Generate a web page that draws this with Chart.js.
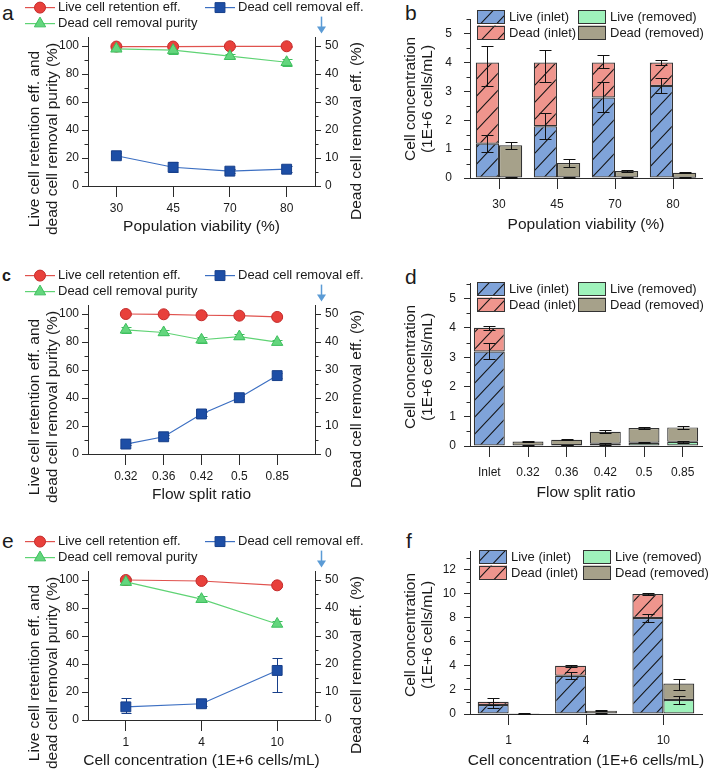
<!DOCTYPE html>
<html>
<head>
<meta charset="utf-8">
<title>Dead cell removal performance</title>
<script src="https://cdn.jsdelivr.net/npm/chart.js@4.4.1/dist/chart.umd.min.js"></script>
<style>
  html, body { margin: 0; padding: 0; background: #fff; }
  body { position: relative; width: 709px; height: 776px; overflow: hidden;
         font-family: "Liberation Sans", Arial, Helvetica, sans-serif; color: #1a1a1a; }
  canvas { position: absolute; }
  .tag { position: absolute; font-size: 21px; line-height: 21px; }
</style>
</head>
<body>
<div class="tag" style="left:2px;top:2px">a</div>
<div class="tag" style="left:405px;top:2px">b</div>
<div class="tag" style="left:2px;top:268px;font-size:16px;line-height:16px;font-weight:bold">c</div>
<div class="tag" style="left:405px;top:266px">d</div>
<div class="tag" style="left:2px;top:530px">e</div>
<div class="tag" style="left:406px;top:530px">f</div>

<canvas id="chartA" width="372" height="246" style="left:0;top:0"></canvas>
<canvas id="chartB" width="334" height="246" style="left:375px;top:0"></canvas>
<canvas id="chartC" width="372" height="246" style="left:0;top:268px"></canvas>
<canvas id="chartD" width="334" height="246" style="left:375px;top:268px"></canvas>
<canvas id="chartE" width="372" height="246" style="left:0;top:534px"></canvas>
<canvas id="chartF" width="334" height="246" style="left:375px;top:536px"></canvas>

<script>
/* ── Data ─────────────────────────────────────────────── */

// ── a / b: population viability ──
const viability = ['30', '45', '70', '80'];
const aRetention    = [99.6, 99.6, 99.8, 99.8];
const aRetentionErr = [0.5, 0.5, 0.5, 0.5];
const aPurity       = [98.0, 97.0, 92.7, 88.4];
const aPurityErr    = [1.2, 2.5, 1.6, 2.4];
const aRemoval      = [10.8, 6.7, 5.3, 6.0];
const aRemovalErr   = [0.95, 1.75, 0.75, 1.0];

const bLiveInlet       = [1.19, 1.79, 2.79, 3.19];
const bLiveInletErr    = [0.3, 0.45, 0.52, 0.26];
const bDeadInlet       = [2.81, 2.21, 1.21, 0.81];
const bDeadInletErr    = [[0.83, 0.56], [0.66, 0.44], [0.2, 0.27], [0.07, 0.07]];
const bLiveRemoved     = [0.02, 0.02, 0.02, 0.01];
const bLiveRemovedErr  = [0.01, 0.01, 0.01, 0.01];
const bDeadRemoved     = [1.11, 0.5, 0.22, 0.17];
const bDeadRemovedErr  = [0.13, 0.15, 0.03, 0.02];

// ── c / d: flow split ratio ──
const splitRatio = ['0.32', '0.36', '0.42', '0.5', '0.85'];
const cRetention    = [100.0, 99.8, 99.1, 98.8, 97.9];
const cRetentionErr = [0.5, 0.5, 0.8, 0.8, 1.0];
const cPurity       = [88.7, 86.8, 81.6, 83.9, 79.9];
const cPurityErr    = [2.0, 2.0, 2.0, 2.0, 1.6];
const cRemoval      = [3.55, 6.15, 14.3, 20.1, 28.0];
const cRemovalErr   = [0.5, 0.5, 0.6, 0.6, 0.9];

const splitBars = ['Inlet', '0.32', '0.36', '0.42', '0.5', '0.85'];
const dLiveInlet      = [3.2, null, null, null, null, null];
const dLiveInletErr   = [0.27, null, null, null, null, null];
const dDeadInlet      = [0.8, null, null, null, null, null];
const dDeadInletErr   = [0.07, null, null, null, null, null];
const dLiveRemoved    = [null, 0.02, 0.03, 0.08, 0.11, 0.14];
const dLiveRemovedErr = [null, 0.01, 0.01, 0.03, 0.02, 0.03];
const dDeadRemoved    = [null, 0.13, 0.18, 0.40, 0.50, 0.49];
const dDeadRemovedErr = [null, 0.02, 0.02, 0.05, 0.04, 0.05];

// ── e / f: cell concentration ──
const concentration = ['1', '4', '10'];
const eRetention    = [100.0, 99.3, 96.2];
const eRetentionErr = [0.5, 0.6, 1.0];
const ePurity       = [98.6, 86.3, 68.6];
const ePurityErr    = [2.5, 2.0, 1.8];
const eRemoval      = [4.7, 5.8, 17.7];
const eRemovalErr   = [[2.1, 3.2], [0.9, 1.0], [7.6, 4.5]];

const fLiveInlet      = [0.75, 3.18, 7.98];
const fLiveInletErr   = [0.25, 0.28, 0.3];
const fDeadInlet      = [0.27, 0.82, 1.99];
const fDeadInletErr   = [0.3, 0.1, 0.07];
const fLiveRemoved    = [0.02, 0.05, 1.16];
const fLiveRemovedErr = [0.01, 0.02, 0.32];
const fDeadRemoved    = [0.03, 0.23, 1.38];
const fDeadRemovedErr = [0.01, 0.04, [0.55, 0.33]];

// ── tick labels ──
const percentTicks = [0, 20, 40, 60, 80, 100];
const removalTicks = [0, 10, 20, 30, 40, 50];
const conc5Ticks   = [0, 1, 2, 3, 4, 5];
const conc12Ticks  = [0, 2, 4, 6, 8, 10, 12];

/* ── Styles ───────────────────────────────────────────── */
const FONT = '"Liberation Sans", Arial, Helvetica, sans-serif';
const INK = '#1a1a1a', AXIS = '#2b2b2b', EDGE = '#333333';
const RED = '#e8403b', RED_EDGE = '#c42b2b', RED_LINE = '#e0524e';
const GREEN = '#63d67d', GREEN_EDGE = '#3fbf5f', GREEN_LINE = '#5fd374';
const BLUE = '#1d4ea6', BLUE_EDGE = '#173f8a', BLUE_LINE = '#3c6fc2';
const ARROW = '#5b9bd5';
const LIVE_IN = '#7fa3d9', DEAD_IN = '#ef958d', LIVE_OUT = '#9ff2bb', DEAD_OUT = '#a6a18a';

Chart.defaults.font.family = FONT;
Chart.defaults.color = INK;
Chart.defaults.animation = false;

// diagonal hatch used for the inlet bars
function hatch(color) {
    const c = document.createElement('canvas');
    c.width = 16; c.height = 17;
    const g = c.getContext('2d');
    g.fillStyle = color;
    g.fillRect(0, 0, 16, 17);
    g.strokeStyle = '#151515';
    g.lineWidth = 1.1;
    g.beginPath();
    g.moveTo(0, 17); g.lineTo(16, 0);
    g.moveTo(-4, 4.25); g.lineTo(4, -4.25);
    g.moveTo(12, 21.25); g.lineTo(20, 12.75);
    g.stroke();
    return g.createPattern(c, 'repeat');
}

/* ── Plugins ──────────────────────────────────────────── */
function errorBars(layer, cap) {
    const draw = chart => {
        const ctx = chart.ctx;
        ctx.save();
        ctx.lineWidth = 1;
        chart.data.datasets.forEach((ds, di) => {
            if (!ds.errors) return;
            const meta = chart.getDatasetMeta(di);
            const ys = chart.scales[meta.yAxisID];
            ctx.strokeStyle = ds.errorColor || '#111';
            meta.data.forEach((el, i) => {
                const e = ds.errors[i], raw = ds.data[i];
                if (e == null || raw == null || (typeof raw === 'object' && raw.y == null)) return;
                const [lo, hi] = Array.isArray(e) ? e : [e, e];
                const v = ys.getValueForPixel(el.y);
                const yLo = Math.round(ys.getPixelForValue(v - lo)) + 0.5;
                const yHi = Math.round(ys.getPixelForValue(v + hi)) + 0.5;
                const x = Math.round(el.x) + 0.5;
                ctx.beginPath();
                ctx.moveTo(x, yLo); ctx.lineTo(x, yHi);
                ctx.moveTo(x - cap / 2, yLo); ctx.lineTo(x + cap / 2, yLo);
                ctx.moveTo(x - cap / 2, yHi); ctx.lineTo(x + cap / 2, yHi);
                ctx.stroke();
            });
        });
        ctx.restore();
    };
    return layer === 'back'
        ? { id: 'errorBarsBack', beforeDatasetsDraw: draw }
        : { id: 'errorBarsFront', afterDatasetsDraw: draw };
}

function minorTicks(steps, len) {
    return {
        id: 'minorTicks',
        afterDraw(chart) {
            const ctx = chart.ctx;
            ctx.save();
            ctx.strokeStyle = AXIS;
            ctx.lineWidth = 1;
            ctx.beginPath();
            for (const [id, step] of Object.entries(steps)) {
                const s = chart.scales[id];
                const left = s.position === 'left';
                const x0 = left ? s.right : s.left;
                for (let v = step; v <= s.max + 1e-9; v += 2 * step) {
                    const y = Math.round(s.getPixelForValue(v)) + 0.5;
                    ctx.moveTo(x0, y);
                    ctx.lineTo(x0 + (left ? -len : len), y);
                }
            }
            ctx.stroke();
            ctx.restore();
        }
    };
}

function titles(place) {
    return {
        id: 'titles',
        afterDraw(chart) {
            const ctx = chart.ctx;
            ctx.save();
            ctx.font = `15.5px ${FONT}`;
            ctx.fillStyle = INK;
            ctx.textAlign = 'center';
            ctx.textBaseline = 'middle';
            for (const t of place(chart.chartArea)) {
                const lines = [].concat(t.text);
                ctx.save();
                ctx.translate(t.x, t.y);
                ctx.rotate(t.rot || 0);
                lines.forEach((ln, k) => ctx.fillText(ln, 0, (k - (lines.length - 1) / 2) * 17.5));
                ctx.restore();
            }
            ctx.restore();
        }
    };
}

// legend rows above the line panels + the arrow pointing at the right axis
const lineLegend = {
    id: 'lineLegend',
    afterDraw(chart) {
        const ctx = chart.ctx, a = chart.chartArea, ds = chart.data.datasets;
        const spots = [[1, 25, a.top - 30], [2, 205, a.top - 30], [0, 25, a.top - 14]];
        ctx.save();
        ctx.font = `13px ${FONT}`;
        ctx.textBaseline = 'middle';
        for (const [i, x, y] of spots) {
            const d = ds[i];
            ctx.strokeStyle = d.borderColor;
            ctx.lineWidth = 1.2;
            ctx.beginPath(); ctx.moveTo(x, y); ctx.lineTo(x + 30, y); ctx.stroke();
            ctx.fillStyle = d.backgroundColor;
            ctx.strokeStyle = d.pointBorderColor;
            ctx.lineWidth = 1;
            Chart.helpers.drawPoint(ctx, { pointStyle: d.pointStyle, radius: d.pointRadius, rotation: 0, borderWidth: 1 }, x + 15, y);
            ctx.fillStyle = INK;
            ctx.fillText(d.label, x + 33, y);
        }
        const ax = a.right + 6.5, y1 = a.top - 21, y2 = a.top - 4;
        ctx.strokeStyle = ARROW; ctx.fillStyle = ARROW; ctx.lineWidth = 1.5;
        ctx.beginPath(); ctx.moveTo(ax, y1); ctx.lineTo(ax, y2 - 6); ctx.stroke();
        ctx.beginPath();
        ctx.moveTo(ax - 4.5, y2 - 7); ctx.lineTo(ax + 4.5, y2 - 7); ctx.lineTo(ax, y2);
        ctx.closePath(); ctx.fill();
        ctx.restore();
    }
};

function boxLegend(x1, x2, top) {
    return {
        id: 'boxLegend',
        afterDraw(chart) {
            const ctx = chart.ctx, ds = chart.data.datasets;
            const spots = [[0, x1, top], [1, x1, top + 15.5], [2, x2, top], [3, x2, top + 15.5]];
            ctx.save();
            ctx.font = `13px ${FONT}`;
            ctx.textBaseline = 'middle';
            for (const [i, x, y] of spots) {
                ctx.fillStyle = ds[i].backgroundColor;
                ctx.fillRect(x, y, 28, 13.5);
                ctx.strokeStyle = EDGE;
                ctx.lineWidth = 1;
                ctx.strokeRect(Math.round(x) + 0.5, Math.round(y) + 0.5, 27, 13);
                ctx.fillStyle = INK;
                ctx.fillText(ds[i].label, x + 32, y + 7.5);
            }
            ctx.restore();
        }
    };
}

/* ── Chart builders ───────────────────────────────────── */
const axisGrid = len => ({ drawOnChartArea: false, tickLength: len, color: AXIS });
const fixedTicks = list => sc => { sc.ticks = list.map(v => ({ value: v })); };

function lineChart(id, cats, xMin, xMax, xTitle, ret, retErr, pur, purErr, rem, remErr) {
    const pts = arr => arr.map((v, i) => ({ x: i, y: v }));
    return new Chart(document.getElementById(id), {
        type: 'line',
        data: {
            datasets: [
                { label: 'Dead cell removal purity', data: pts(pur), errors: purErr, yAxisID: 'y',
                  borderColor: GREEN_LINE, backgroundColor: GREEN, pointBorderColor: GREEN_EDGE, errorColor: GREEN_EDGE,
                  pointStyle: 'triangle', pointRadius: 6.5, pointBorderWidth: 1, borderWidth: 1.2 },
                { label: 'Live cell retention eff.', data: pts(ret), errors: retErr, yAxisID: 'y',
                  borderColor: RED_LINE, backgroundColor: RED, pointBorderColor: RED_EDGE, errorColor: RED_EDGE,
                  pointStyle: 'circle', pointRadius: 5.5, pointBorderWidth: 1, borderWidth: 1.2 },
                { label: 'Dead cell removal eff.', data: pts(rem), errors: remErr, yAxisID: 'y1',
                  borderColor: BLUE_LINE, backgroundColor: BLUE, pointBorderColor: BLUE_EDGE, errorColor: BLUE_EDGE,
                  pointStyle: 'rect', pointRadius: 7, pointBorderWidth: 1, borderWidth: 1.2 }
            ]
        },
        options: {
            responsive: false,
            layout: { padding: { top: 37.6 } },
            plugins: { legend: { display: false }, tooltip: { enabled: false } },
            scales: {
                x: { type: 'linear', min: xMin, max: xMax,
                     afterBuildTicks: fixedTicks(cats.map((c, i) => i)),
                     afterFit: sc => { sc.height = 60; },
                     ticks: { callback: v => cats[v], font: { size: 12 }, padding: 4, maxRotation: 0, autoSkip: false },
                     grid: axisGrid(11), border: { color: AXIS } },
                y: { position: 'left', min: 0, max: 106,
                     afterBuildTicks: fixedTicks(percentTicks),
                     afterFit: sc => { sc.width = 88; },
                     ticks: { font: { size: 12 }, padding: 3 },
                     grid: axisGrid(6), border: { color: AXIS } },
                y1: { position: 'right', min: 0, max: 53,
                      afterBuildTicks: fixedTicks(removalTicks),
                      afterFit: sc => { sc.width = 372 - 315; },
                      ticks: { font: { size: 12 }, padding: 4 },
                      grid: axisGrid(6), border: { color: AXIS } }
            }
        },
        plugins: [
            errorBars('back', 10), minorTicks({ y: 10, y1: 5 }, 3.5), lineLegend,
            titles(a => [
                { text: ['Live cell retention eff. and', 'dead cell removal purity (%)'], x: 43.5, y: a.bottom - 47, rot: -Math.PI / 2 },
                { text: 'Dead cell removal eff. (%)', x: 357, y: a.bottom - 55, rot: -Math.PI / 2 },
                { text: xTitle, x: (a.left + a.right) / 2, y: a.bottom + 41 }
            ])
        ]
    });
}

function barChart(id, cats, grouped, yMax, yTicks, minorStep, labelPad, legendX, legendTop, xTitle, s) {
    const inlet = grouped ? 'inlet' : 'all', removed = grouped ? 'removed' : 'all';
    const bar = { borderColor: EDGE, borderWidth: 1.2, borderSkipped: false, categoryPercentage: 0.8, barPercentage: 1 };
    return new Chart(document.getElementById(id), {
        type: 'bar',
        data: {
            labels: cats,
            datasets: [
                { ...bar, label: 'Live (inlet)', data: s.liveIn, errors: s.liveInErr, stack: inlet, backgroundColor: hatch(LIVE_IN) },
                { ...bar, label: 'Dead (inlet)', data: s.deadIn, errors: s.deadInErr, stack: inlet, backgroundColor: hatch(DEAD_IN) },
                { ...bar, label: 'Live (removed)', data: s.liveOut, errors: s.liveOutErr, stack: removed, backgroundColor: LIVE_OUT },
                { ...bar, label: 'Dead (removed)', data: s.deadOut, errors: s.deadOutErr, stack: removed, backgroundColor: DEAD_OUT }
            ]
        },
        options: {
            responsive: false,
            layout: { padding: { top: 15.5, right: 7 } },
            plugins: { legend: { display: false }, tooltip: { enabled: false } },
            scales: {
                x: { stacked: true, offset: true,
                     afterFit: sc => { sc.height = 68; },
                     ticks: { font: { size: 12 }, padding: 8, maxRotation: 0, autoSkip: false },
                     grid: { ...axisGrid(11), offset: false }, border: { color: AXIS } },
                y: { stacked: true, min: 0, max: yMax,
                     afterBuildTicks: fixedTicks(yTicks),
                     afterFit: sc => { sc.width = 95; },
                     ticks: { font: { size: 12 }, padding: labelPad },
                     grid: axisGrid(6), border: { color: AXIS } }
            }
        },
        plugins: [
            errorBars('front', 12), minorTicks({ y: minorStep }, 3.5),
            boxLegend(legendX[0], legendX[1], legendTop),
            titles(a => [
                { text: ['Cell concentration', '(1E+6 cells/mL)'], x: 44, y: a.bottom - 79, rot: -Math.PI / 2 },
                { text: xTitle, x: (a.left + a.right) / 2, y: a.bottom + 47 }
            ])
        ]
    });
}

/* ── Panels ───────────────────────────────────────────── */
lineChart('chartA', viability, -0.5, 3.5, 'Population viability (%)',
          aRetention, aRetentionErr, aPurity, aPurityErr, aRemoval, aRemovalErr);
lineChart('chartC', splitRatio, -1, 5, 'Flow split ratio',
          cRetention, cRetentionErr, cPurity, cPurityErr, cRemoval, cRemovalErr);
lineChart('chartE', concentration, -0.5, 2.5, 'Cell concentration (1E+6 cells/mL)',
          eRetention, eRetentionErr, ePurity, ePurityErr, eRemoval, eRemovalErr);

barChart('chartB', viability, true, 5.5, conc5Ticks, 0.5, 12, [102, 203], 10, 'Population viability (%)', {
    liveIn: bLiveInlet, liveInErr: bLiveInletErr, deadIn: bDeadInlet, deadInErr: bDeadInletErr,
    liveOut: bLiveRemoved, liveOutErr: bLiveRemovedErr, deadOut: bDeadRemoved, deadOutErr: bDeadRemovedErr });
barChart('chartD', splitBars, false, 5.5, conc5Ticks, 0.5, 8, [102, 203], 14, 'Flow split ratio', {
    liveIn: dLiveInlet, liveInErr: dLiveInletErr, deadIn: dDeadInlet, deadInErr: dDeadInletErr,
    liveOut: dLiveRemoved, liveOutErr: dLiveRemovedErr, deadOut: dDeadRemoved, deadOutErr: dDeadRemovedErr });
barChart('chartF', concentration, true, 13.5, conc12Ticks, 1, 8, [104, 208], 14, 'Cell concentration (1E+6 cells/mL)', {
    liveIn: fLiveInlet, liveInErr: fLiveInletErr, deadIn: fDeadInlet, deadInErr: fDeadInletErr,
    liveOut: fLiveRemoved, liveOutErr: fLiveRemovedErr, deadOut: fDeadRemoved, deadOutErr: fDeadRemovedErr });
</script>
</body>
</html>
